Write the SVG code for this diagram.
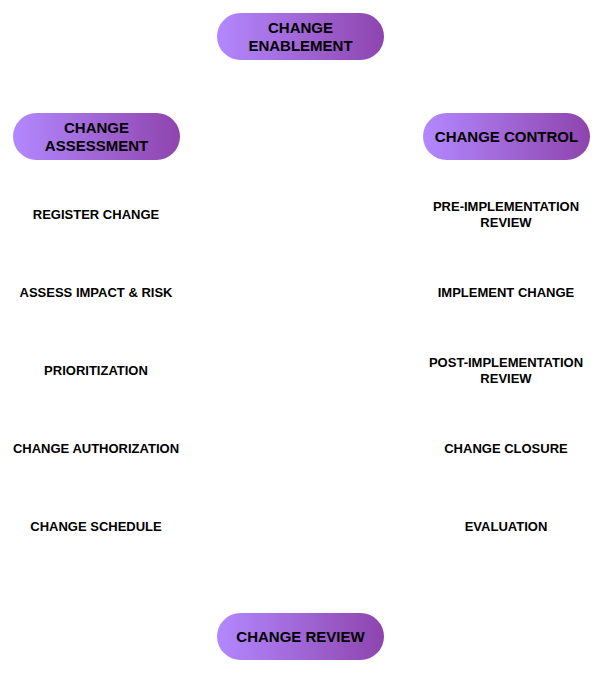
<svg xmlns="http://www.w3.org/2000/svg" width="604" height="673" viewBox="0 0 604 673">
<defs>
<linearGradient id="pg" x1="0" y1="0" x2="1" y2="0">
<stop offset="0" stop-color="#B388FF"/>
<stop offset="1" stop-color="#8E44AD"/>
</linearGradient>
</defs>
<style>
.pill{fill:url(#pg);stroke:none}
.pt{font-family:"Liberation Sans",Arial,sans-serif;font-weight:bold;font-size:15px;fill:#000;text-anchor:middle;dominant-baseline:central}
.it{font-family:"Liberation Sans",Arial,sans-serif;font-weight:bold;font-size:13px;fill:#000;text-anchor:middle;dominant-baseline:central}
</style>
<rect width="604" height="673" fill="#fff"/>
<g id="connectors"></g>
<g id="change-enablement">
<rect class="pill" x="217" y="13" width="167" height="47" rx="23.5"/>
<text class="pt" x="300.5" y="27.5">CHANGE</text>
<text class="pt" x="300.5" y="45.5">ENABLEMENT</text>
</g>
<g id="change-assessment">
<rect class="pill" x="13" y="113" width="167" height="47" rx="23.5"/>
<text class="pt" x="96.5" y="127.5">CHANGE</text>
<text class="pt" x="96.5" y="145.5">ASSESSMENT</text>
</g>
<g id="change-control">
<rect class="pill" x="423" y="113" width="167" height="47" rx="23.5"/>
<text class="pt" x="506.5" y="136.5">CHANGE CONTROL</text>
</g>
<g id="change-review">
<rect class="pill" x="217" y="613" width="167" height="47" rx="23.5"/>
<text class="pt" x="300.5" y="636.5">CHANGE REVIEW</text>
</g>
<g id="register-change"><text class="it" x="96" y="214">REGISTER CHANGE</text></g>
<g id="assess-impact"><text class="it" x="96" y="292">ASSESS IMPACT &amp; RISK</text></g>
<g id="prioritization"><text class="it" x="96" y="370">PRIORITIZATION</text></g>
<g id="change-authorization"><text class="it" x="96" y="448">CHANGE AUTHORIZATION</text></g>
<g id="change-schedule"><text class="it" x="96" y="526">CHANGE SCHEDULE</text></g>
<g id="pre-implementation-review">
<text class="it" x="506" y="206">PRE-IMPLEMENTATION</text>
<text class="it" x="506" y="222">REVIEW</text>
</g>
<g id="implement-change"><text class="it" x="506" y="292">IMPLEMENT CHANGE</text></g>
<g id="post-implementation-review">
<text class="it" x="506" y="362">POST-IMPLEMENTATION</text>
<text class="it" x="506" y="378">REVIEW</text>
</g>
<g id="change-closure"><text class="it" x="506" y="448">CHANGE CLOSURE</text></g>
<g id="evaluation"><text class="it" x="506" y="526">EVALUATION</text></g>
</svg>
